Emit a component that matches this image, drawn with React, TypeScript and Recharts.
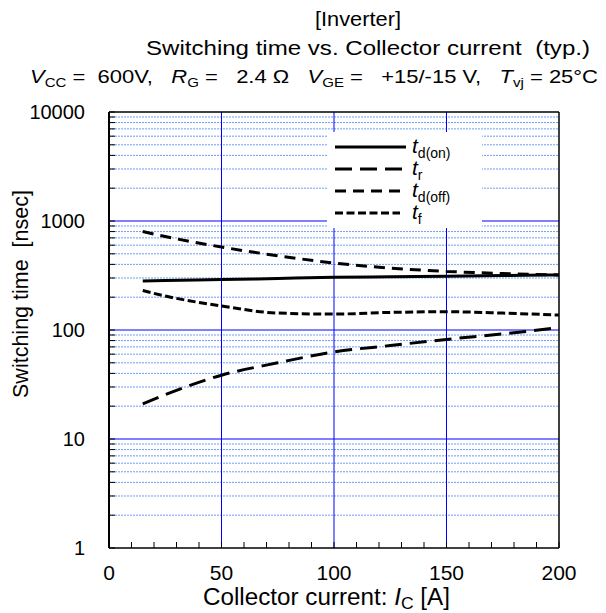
import React from 'react';
import { LineChart, Line, XAxis, YAxis, ReferenceLine } from 'recharts';

// collector current [A]
const current = [15, 25, 50, 75, 100, 125, 150, 175, 200];
// switching times [nsec]
const tdOn = [282, 285, 290, 297, 304, 308, 312, 316, 320];
const tr = [21, 25.5, 38.5, 50, 63, 72, 82, 92, 105];
const tdOff = [800, 720, 577, 480, 412, 370, 345, 330, 320];
const tf = [230, 205, 166, 143, 140, 145, 147, 143, 137];

const xTicks = [0, 10, 20, 30, 40, 50, 60, 70, 80, 90, 100, 110, 120, 130, 140, 150, 160, 170, 180, 190, 200];
const xLabels = [0, 50, 100, 150, 200];
const decades = [1, 10, 100, 1000, 10000];
const minorMult = [2, 3, 4, 5, 6, 7, 8, 9];

const FONT = '"Liberation Sans", Arial, sans-serif';

const data = current.map((c, i) => ({
  ic: c,
  tdOn: tdOn[i],
  tr: tr[i],
  tdOff: tdOff[i],
  tf: tf[i],
}));

const minors: number[] = [];
decades.slice(0, 4).forEach((d) => minorMult.forEach((m) => minors.push(d * m)));
const yTicks = [...decades, ...minors].sort((a, b) => a - b);

const series = [
  { key: 'tdOn', sub: 'd(on)', dash: undefined, len: 71 },
  { key: 'tr', sub: 'r', dash: '17 8', len: 67 },
  { key: 'tdOff', sub: 'd(off)', dash: '11 7', len: 65 },
  { key: 'tf', sub: 'f', dash: '8 3.5', len: 65 },
];

const YTick = (props: any) => {
  const { x, y, payload } = props;
  const v = payload.value;
  const major = decades.includes(v);
  return (
    <g>
      <line x1={x} x2={x + 6} y1={y} y2={y} stroke="#000" />
      {major && (
        <text x={x - 24} y={y} dy={7} textAnchor="end" fontSize={20} fontFamily={FONT} fill="#000">
          {v}
        </text>
      )}
    </g>
  );
};

const XTick = (props: any) => {
  const { x, y, payload } = props;
  const v = payload.value;
  return (
    <g>
      <line x1={x} x2={x} y1={y} y2={y - 6} stroke="#000" />
      {xLabels.includes(v) && (
        <text x={x} y={y + 32} textAnchor="middle" fontSize={21} fontFamily={FONT} fill="#000">
          {v}
        </text>
      )}
    </g>
  );
};

const Overlay = () => (
  <svg
    width={606}
    height={613}
    style={{ position: 'absolute', left: 0, top: 0, pointerEvents: 'none' }}
    fontFamily={FONT}
    fill="#000"
  >
    <text x={315} y={26} fontSize={21} textLength={86} lengthAdjust="spacingAndGlyphs">[Inverter]</text>
    <text x={146} y={55} fontSize={21} textLength={444} lengthAdjust="spacingAndGlyphs" xmlSpace="preserve">
      Switching time vs. Collector current  (typ.)
    </text>
    <text x={30} y={83} fontSize={19} textLength={568} lengthAdjust="spacingAndGlyphs" xmlSpace="preserve">
      <tspan fontStyle="italic">V</tspan>
      <tspan fontSize={13} dy={4}>CC</tspan>
      <tspan dy={-4}>{' =  600V,   '}</tspan>
      <tspan fontStyle="italic">R</tspan>
      <tspan fontSize={13} dy={4}>G</tspan>
      <tspan dy={-4}>{' =   2.4 Ω   '}</tspan>
      <tspan fontStyle="italic">V</tspan>
      <tspan fontSize={13} dy={4}>GE</tspan>
      <tspan dy={-4}>{' =   +15/-15 V,   '}</tspan>
      <tspan fontStyle="italic">T</tspan>
      <tspan fontSize={13} dy={4}>vj</tspan>
      <tspan dy={-4}>{' = 25°C'}</tspan>
    </text>
    <text x={203} y={605} fontSize={23.5} textLength={247} lengthAdjust="spacingAndGlyphs" xmlSpace="preserve">
      <tspan>Collector current: </tspan>
      <tspan fontStyle="italic">I</tspan>
      <tspan fontSize={17} dy={4}>C</tspan>
      <tspan dy={-4}>{' [A]'}</tspan>
    </text>
    <text
      transform="translate(28, 398) rotate(-90)"
      fontSize={21.5}
      textLength={208}
      lengthAdjust="spacingAndGlyphs"
      xmlSpace="preserve"
    >
      Switching time  [nsec]
    </text>
    <g transform="translate(327, 132)">
      <rect width={155} height={96} fill="#fff" />
      {series.map((s, i) => {
        const y = 15 + i * 22;
        return (
          <g key={s.key}>
            <line x1={8} x2={8 + s.len} y1={y} y2={y} stroke="#000" strokeWidth={3} strokeDasharray={s.dash} />
            <text x={85} y={y + 6}>
              <tspan fontSize={21} fontStyle="italic">t</tspan>
              <tspan fontSize={14} dy={5}>{s.sub}</tspan>
            </text>
          </g>
        );
      })}
    </g>
  </svg>
);

export default function App() {
  return (
    <div style={{ position: 'absolute', left: 0, top: 0, width: 606, height: 613, background: '#fff' }}>
      <LineChart width={606} height={613} data={data} margin={{ top: 112, right: 47, bottom: 35, left: 49 }}>
        <XAxis
          type="number"
          dataKey="ic"
          domain={[0, 200]}
          ticks={xTicks}
          interval={0}
          tickSize={0}
          tickMargin={0}
          tick={<XTick />}
          height={30}
          axisLine={{ stroke: '#000', strokeWidth: 1.5 }}
        />
        <YAxis
          type="number"
          scale="log"
          domain={[1, 10000]}
          allowDataOverflow
          ticks={yTicks}
          interval={0}
          tickSize={0}
          tickMargin={0}
          tick={<YTick />}
          width={60}
          axisLine={{ stroke: '#000', strokeWidth: 2 }}
        />
        {minors.map((v) => (
          <ReferenceLine key={'m' + v} y={v} stroke="#6e9cf2" strokeDasharray="2 1" />
        ))}
        {[10, 100, 1000].map((v) => (
          <ReferenceLine key={'d' + v} y={v} stroke="#0000ff" />
        ))}
        {[50, 100, 150].map((v) => (
          <ReferenceLine key={'v' + v} x={v} stroke="#0000ff" />
        ))}
        <ReferenceLine y={10000} stroke="#000" strokeWidth={1.5} />
        <ReferenceLine x={200} stroke="#000" strokeWidth={1.5} />
        {series.map((s) => (
          <Line
            key={s.key}
            dataKey={s.key}
            type="monotone"
            stroke="#000"
            strokeWidth={3}
            strokeDasharray={s.dash}
            dot={false}
            isAnimationActive={false}
          />
        ))}
      </LineChart>
      <Overlay />
    </div>
  );
}
